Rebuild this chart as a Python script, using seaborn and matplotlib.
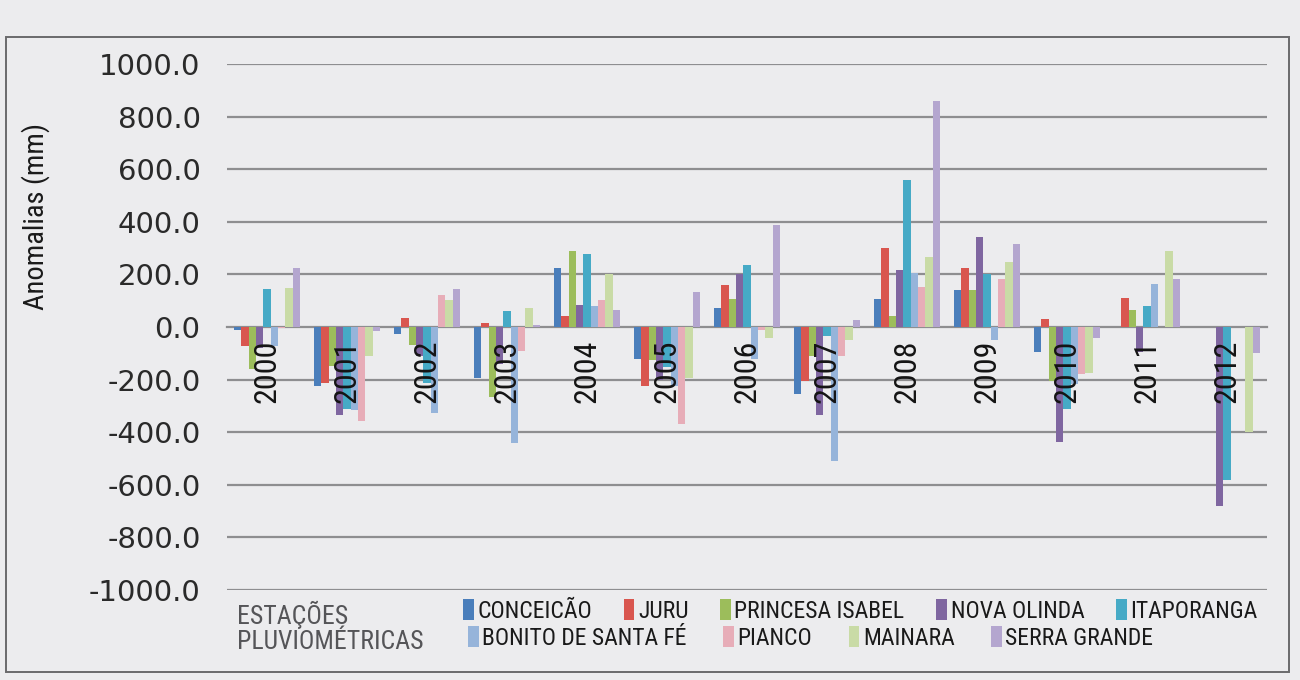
import matplotlib
matplotlib.use("Agg")
import matplotlib.pyplot as plt
from matplotlib import font_manager as fm
from matplotlib.patches import Patch, Rectangle
import seaborn as sns
import pandas as pd

# Annual rainfall anomalies (mm) per rain gauge station
anos = ["2000", "2001", "2002", "2003", "2004", "2005", "2006",
        "2007", "2008", "2009", "2010", "2011", "2012"]
estacoes = ["CONCEICÃO", "JURU", "PRINCESA ISABEL", "NOVA OLINDA", "ITAPORANGA",
            "BONITO DE SANTA FÉ", "PIANCO", "MAINARA", "SERRA GRANDE"]

conceicao = [-12, -226, -25, -194, 224, -121, 73, -255, 108, 139, -96, 0, 0]
juru = [-71, -212, 36, 16, 42, -224, 158, -204, 302, 224, 32, 110, 0]
princesa_isabel = [-161, -149, -67, -266, 290, -125, 105, -109, 40, 139, -204, 66, 0]
nova_olinda = [-81, -333, -110, -140, 85, -200, 202, -333, 215, 341, -437, -96, -681]
itaporanga = [143, -310, -212, 60, 278, -152, 234, -36, 560, 200, -311, 81, -583]
bonito_santa_fe = [-71, -315, -327, -440, 79, -224, -120, -509, 205, -48, -215, 163, 0]
pianco = [-5, -357, 121, -90, 103, -370, -10, -109, 151, 182, -180, 0, 0]
mainara = [149, -110, 103, 73, 200, -194, -42, -48, 266, 248, -174, 290, -399]
serra_grande = [224, -14, 145, 8, 64, 133, 387, 27, 859, 315, -42, 184, -98]

series = [conceicao, juru, princesa_isabel, nova_olinda, itaporanga,
          bonito_santa_fe, pianco, mainara, serra_grande]
cores = ["#4a7ebb", "#d9564f", "#9cbd5b", "#7f66a0", "#46aac6",
         "#96b4da", "#e7adb8", "#c9dba6", "#b4a6cf"]
y_ticks = [-1000, -800, -600, -400, -200, 0, 200, 400, 600, 800, 1000]

df = pd.DataFrame(
    [(ano, est, vals[i]) for est, vals in zip(estacoes, series) for i, ano in enumerate(anos)],
    columns=["ano", "estacao", "anomalia"],
)

sns.set_theme(style="white")
plt.rcParams["font.family"] = ["DejaVu Sans"]


def narrow_font():
    prefs = ["Liberation Sans Narrow", "Roboto Condensed", "Open Sans Condensed",
             "Noto Sans Condensed", "DejaVu Sans Condensed"]
    entries = fm.fontManager.ttflist
    for p in prefs:
        for f in entries:
            if f.name == p and f.style == "normal" and f.weight in (400, "normal", "regular"):
                return f.fname
    for f in entries:
        low = f.fname.lower()
        if ("condensed" in str(f.stretch) or "narrow" in low or "condensed" in low) \
                and f.style == "normal" and f.weight in (400, "normal", "regular") \
                and "mono" not in low and "serif" not in low:
            return f.fname
    return None


nf = narrow_font()
if nf:
    def narrow(size):
        return fm.FontProperties(fname=nf, size=size)
else:
    def narrow(size):
        return fm.FontProperties(family="DejaVu Sans", size=size * 0.8)

W, H = 1300, 680
bg = "#ececee"
fig = plt.figure(figsize=(W / 100, H / 100), dpi=100, facecolor=bg)
ax = fig.add_axes([227 / W, 1 - 590 / H, 1040 / W, 526 / H])
ax.set_facecolor(bg)

grid_c = "#8e8e90"
# horizontal gridlines sit behind the bars; axis labels stay on top
ax.hlines([v for v in y_ticks if v != 0], -0.5, len(anos) - 0.5,
          color=grid_c, lw=1.6, zorder=0)

sns.barplot(data=df, x="ano", y="anomalia", hue="estacao", order=anos,
            hue_order=estacoes, palette=cores, width=0.82, saturation=1,
            errorbar=None, legend=False, ax=ax)
for p in ax.patches:
    p.set_edgecolor("none")

ax.set_ylim(-1000, 1000)
ax.set_xlim(-0.5, len(anos) - 0.5)
ax.set_yticks(y_ticks)
ax.set_yticklabels([f"{v:.1f}" for v in y_ticks], fontsize=21, color="#2a2a2a")
ax.tick_params(axis="y", length=0, pad=19)
ax.set_axisbelow(False)

for s in ("left", "right", "top"):
    ax.spines[s].set_visible(False)
ax.spines["bottom"].set_position(("data", 0))
ax.spines["bottom"].set_color(grid_c)
ax.spines["bottom"].set_linewidth(1.6)
ax.spines["bottom"].set_zorder(0.5)

ax.set_xticks(range(len(anos)))
ax.set_xticklabels(anos, rotation=90)
for lbl in ax.get_xticklabels():
    lbl.set_fontproperties(narrow(23))
    lbl.set_color("#141414")
    lbl.set_zorder(5)
ax.set_xticks([i - 0.5 for i in range(len(anos) + 1)], minor=True)
ax.tick_params(axis="x", which="major", length=0, pad=9)
ax.tick_params(axis="x", which="minor", length=8, width=1.4, color=grid_c, direction="out")
ax.set_xlabel("")

ax.set_ylabel("Anomalias (mm)", fontproperties=narrow(20.5), color="#1a1a1a")
ax.yaxis.set_label_coords(-0.170, 0.71)

# Legend in two rows with its title on the left
handles = [Patch(facecolor=c, edgecolor="none") for c in cores]
leg_kw = dict(frameon=False, handlelength=0.45, handleheight=0.95, handletextpad=0.15,
              prop=narrow(17), loc="center left",
              borderaxespad=0, borderpad=0, labelcolor="#1a1a1a")
fig.legend(handles[:5], estacoes[:5], ncol=5, columnspacing=1.35,
           bbox_to_anchor=(463 / W, 1 - 611 / H), **leg_kw)
fig.legend(handles[5:], estacoes[5:], ncol=4, columnspacing=1.55,
           bbox_to_anchor=(468 / W, 1 - 638 / H), **leg_kw)
fig.text(237 / W, 1 - 615 / H, "ESTAÇÕES", fontproperties=narrow(18.5),
         color="#555558", va="center", ha="left")
fig.text(237 / W, 1 - 642 / H, "PLUVIOMÉTRICAS", fontproperties=narrow(18.5),
         color="#555558", va="center", ha="left")

# Chart frame
fig.patches.append(Rectangle((6 / W, 1 - 672 / H), 1283 / W, 635 / H,
                             transform=fig.transFigure, fill=False,
                             edgecolor="#6a6a6c", lw=1.4))

fig.savefig("out.png", dpi=100, facecolor=bg)
